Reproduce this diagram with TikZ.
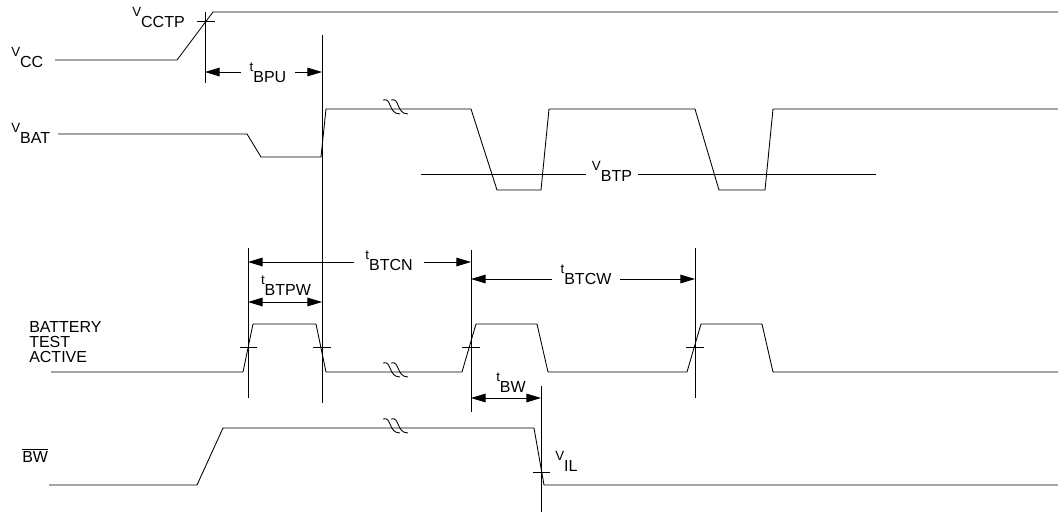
\documentclass[tikz,border=0pt]{standalone}
\usepackage{fontspec}
\setmainfont{Liberation Sans}
\usetikzlibrary{arrows.meta,positioning}
\newcommand{\sig}[2]{\raisebox{8pt}{\fontsize{10}{11}\selectfont #1}#2}
\newcommand{\wavebreak}[1]{%
  \draw[wave,shift={#1}] (-13,-9) .. controls (-4,-12) and (-8,5) .. (4,5)
                         (-5,-9) .. controls (4,-12) and (0,5) .. (12,5);}

\begin{document}
\begin{tikzpicture}[x=0.75pt,y=-0.75pt,
    wave/.style={line width=0.65pt, line join=round},
    markline/.style={line width=0.65pt},
    tickmark/.style={line width=0.65pt},
    dimline/.style={line width=0.65pt, -{Triangle[length=11pt,width=6.5pt]}},
    dimboth/.style={line width=0.65pt, {Triangle[length=11pt,width=6.5pt]}-{Triangle[length=11pt,width=6.5pt]}},
    sigtext/.style={inner sep=0pt, font=\fontsize{12}{11.25}\selectfont},
    dimlabel/.style={sigtext, inner xsep=6pt, anchor=base}]
  \useasboundingbox (0,0) rectangle (1058,515);

  % Signal names
  \node[sigtext, anchor=base west] (vcc)  at (11,67)  {\sig{V}{CC}};
  \node[sigtext, anchor=base west] (vbat) at (11,143) {\sig{V}{BAT}};
  \node[sigtext, anchor=north west, align=left] (bta) at (29,321) {BATTERY\\TEST\\ACTIVE};
  \node[sigtext, anchor=base west] (bw)   at (22,462) {$\overline{\hbox{BW}}$};

  % Waveforms
  \draw[wave] (55,60) -- (177,60) -- (213,12) -- (1058,12);
  \draw[wave] (58,134) -- (247,134) -- (261,157) -- (321,157) -- (326,109)
    -- (471,109) -- (497,190) -- (541,190) -- (549,109) -- (695,109)
    -- (719,190) -- (765,190) -- (773,109) -- (1058,109);
  \draw[wave] (51,372) -- (243,372) -- (253,324) -- (316,324) -- (326,372)
    -- (462,372) -- (476,324) -- (537,324) -- (548,372) -- (687,372)
    -- (701,324) -- (762,324) -- (773,372) -- (1058,372);
  \draw[wave] (49,485) -- (197,485) -- (223,428) -- (534,428) -- (544,485) -- (1058,485);

  % Breaks
  \wavebreak{(396,109)}
  \wavebreak{(396,372)}
  \wavebreak{(396,428)}

  % Threshold marks
  \draw[tickmark] (197,21) -- (215,21);
  \draw[tickmark] (240,347) -- (257,347);
  \draw[tickmark] (313,347) -- (331,347);
  \draw[tickmark] (462,347) -- (480,347);
  \draw[tickmark] (686,347) -- (704,347);
  \draw[tickmark] (533,472) -- (550,472);
  \node[sigtext, anchor=base west] (vcctp) at (132,27)  {\sig{V}{CCTP}};
  \node[sigtext, anchor=base west] (vil)   at (555,471) {\sig{V}{IL}};

  % Battery trip level
  \coordinate (btpL) at (421,174);
  \coordinate (btpR) at (876,174);
  \node[sigtext, inner xsep=4.5pt, anchor=base] (vbtp) at (612,181) {\sig{V}{BTP}};
  \draw[markline] (btpL) -- (vbtp.west |- btpL);
  \draw[markline] (vbtp.east |- btpR) -- (btpR);

  % Timing markers
  \draw[markline] (205,12) -- (205,83);
  \draw[markline] (322,35) -- (322,403);
  \draw[markline] (248,248) -- (248,398);
  \draw[markline] (471,250) -- (471,412);
  \draw[markline] (695,248) -- (695,398);
  \draw[markline] (541,386) -- (541,512);

  % Timing parameters
  \coordinate (bpuL) at (205,72);
  \coordinate (bpuR) at (322,72);
  \node[dimlabel] (tbpu) at (268,82) {\sig{t}{BPU}};
  \draw[dimline] (tbpu.west |- bpuL) -- (bpuL);
  \draw[dimline] (tbpu.east |- bpuR) -- (bpuR);

  \coordinate (btcnL) at (248,262);
  \coordinate (btcnR) at (471,262);
  \node[dimlabel, inner xsep=8pt] (tbtcn) at (389,270) {\sig{t}{BTCN}};
  \draw[dimline] (tbtcn.west |- btcnL) -- (btcnL);
  \draw[dimline] (tbtcn.east |- btcnR) -- (btcnR);

  \coordinate (btcwL) at (471,279);
  \coordinate (btcwR) at (695,279);
  \node[dimlabel] (tbtcw) at (586,284) {\sig{t}{BTCW}};
  \draw[dimline] (tbtcw.west |- btcwL) -- (btcwL);
  \draw[dimline] (tbtcw.east |- btcwR) -- (btcwR);

  \coordinate (btpwL) at (248,302);
  \coordinate (btpwR) at (322,302);
  \node[dimlabel] (tbtpw) at (286,295) {\sig{t}{BTPW}};
  \draw[dimboth] (btpwL) -- (btpwR);

  \coordinate (bwL) at (471,398);
  \coordinate (bwR) at (541,398);
  \node[dimlabel] (tbw) at (511,392) {\sig{t}{BW}};
  \draw[dimboth] (bwL) -- (bwR);
\end{tikzpicture}
\end{document}
